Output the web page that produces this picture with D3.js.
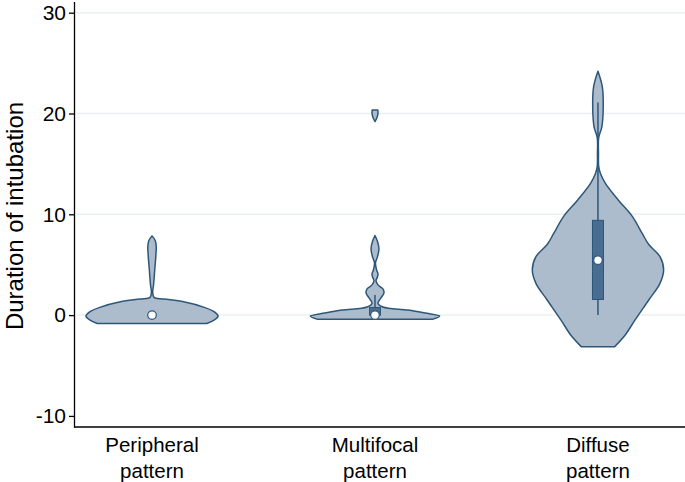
<!DOCTYPE html>
<html>
<head>
<meta charset="utf-8">
<script src="https://cdn.jsdelivr.net/npm/d3@7"></script>
<style>
    body { margin: 0; background: #fff; }
    text { font-family: "Liberation Sans", Arial, sans-serif; fill: #000; }
</style>
</head>
<body>
<div id="chart"></div>
<script>
// categories (two-line labels)
const categories = ["Peripheral", "Multifocal", "Diffuse"];
const labelLines = [["Peripheral", "pattern"], ["Multifocal", "pattern"], ["Diffuse", "pattern"]];
const yTicks = [-10, 0, 10, 20, 30];
const gridTicks = [0, 10, 20, 30];

// violin outlines: [value, relative density], one array per separate piece
const peripheralPieces = [[
    [-0.83, 0.83], [-0.5, 0.94], [-0.1, 1.0], [0.3, 0.95], [0.77, 0.79], [1.32, 0.48],
    [1.6, 0.18], [1.76, 0.03], [2.3, 0.01], [3.0, 0.023], [4.5, 0.041], [6.0, 0.059],
    [6.8, 0.064], [7.4, 0.048], [7.86, 0]
]];
const multifocalPieces = [[
    [-0.4, 0.88], [-0.1, 0.98], [0.2, 0.76], [0.5, 0.5], [0.8, 0.12], [1.2, 0.045],
    [1.7, 0.09], [2.2, 0.136], [2.6, 0.12], [3.0, 0.045], [3.4, 0.015], [3.8, 0.038],
    [4.1, 0.045], [4.5, 0.023], [5.2, 0.008], [5.8, 0.038], [6.6, 0.06], [7.3, 0.038], [7.9, 0]
], [
    [19.2, 0], [19.6, 0.03], [20.0, 0.045], [20.35, 0.042]
]];
const diffusePieces = [[
    [-3.15, 0.25], [-2, 0.41], [-0.5, 0.56], [1.5, 0.77], [3.15, 0.94], [4.5, 0.995],
    [5.8, 0.94], [7.0, 0.77], [8.1, 0.67], [9.8, 0.52], [11.4, 0.31], [13.1, 0.11],
    [14.1, 0.035], [14.75, 0.011], [16, 0.008], [17.6, 0.011], [18.7, 0.06],
    [21.05, 0.08], [22.7, 0.065], [24.2, 0]
]];
const violinPieces = [peripheralPieces, multifocalPieces, diffusePieces];

// box summaries: [lower whisker, q1, median, q3, upper whisker]
const boxStats = [
    [0, 0, 0, 0, 0],
    [0, 0, 0, 0.75, 2.0],
    [0, 1.55, 5.45, 9.4, 21.1]
];

const width = 685, height = 482;
const fillColor = "#adbccd", lineColor = "#2d5679", boxColor = "#486d90";

const svg = d3.select("#chart")
    .append("svg")
    .attr("width", width)
    .attr("height", height);

const y = d3.scaleLinear().domain([-11.1, 31.1]).range([427, 1.6]);
const x = d3.scalePoint().domain(categories).range([74, 676]).padding(0.35);
const w = d3.scaleLinear().domain([0, 1]).range([0, 66]);

// grid lines
svg.append("g")
    .selectAll("line")
    .data(gridTicks)
    .join("line")
    .attr("x1", 76)
    .attr("x2", width)
    .attr("y1", d => y(d))
    .attr("y2", d => y(d))
    .attr("stroke", "#eaf0f2")
    .attr("stroke-width", 1.5);

// violins
categories.forEach((cat, i) => {
    const cx = x(cat);
    const area = d3.area()
        .curve(d3.curveCatmullRom.alpha(0.5))
        .y(d => y(d[0]))
        .x0(d => cx - w(d[1]))
        .x1(d => cx + w(d[1]));
    const g = svg.append("g");
    g.selectAll("path")
        .data(violinPieces[i])
        .join("path")
        .attr("d", area)
        .attr("fill", fillColor)
        .attr("stroke", lineColor)
        .attr("stroke-width", 1.5)
        .attr("stroke-linejoin", "round");

    const [lo, q1, med, q3, hi] = boxStats[i];
    if (hi > lo) {
        g.append("line")
            .attr("x1", cx).attr("x2", cx)
            .attr("y1", y(lo)).attr("y2", y(hi))
            .attr("stroke", lineColor)
            .attr("stroke-width", 1.5);
    }
    if (q3 > q1) {
        g.append("rect")
            .attr("x", cx - 5.5)
            .attr("width", 11)
            .attr("y", y(q3))
            .attr("height", y(q1) - y(q3))
            .attr("fill", boxColor)
            .attr("stroke", lineColor)
            .attr("stroke-width", 1);
    }
    g.append("circle")
        .attr("cx", cx)
        .attr("cy", y(med))
        .attr("r", 4.3)
        .attr("fill", "#fff")
        .attr("stroke", lineColor)
        .attr("stroke-width", 1.2);
});

// y axis
const yAxis = svg.append("g")
    .attr("transform", "translate(74,0)")
    .call(d3.axisLeft(y)
        .tickValues(yTicks)
        .tickFormat(d => String(d))
        .tickSize(5)
        .tickSizeOuter(0)
        .tickPadding(3));
yAxis.select(".domain").attr("stroke", "#000").attr("stroke-width", 1.3);
yAxis.selectAll(".tick line").attr("stroke", "#000").attr("stroke-width", 1.3);
yAxis.selectAll(".tick text")
    .attr("font-size", 21)
    .attr("font-family", null)
    .attr("fill", "#000");

// y axis label
svg.append("text")
    .attr("text-anchor", "middle")
    .attr("transform", "translate(23,216) rotate(-90)")
    .attr("font-size", 24)
    .text("Duration of intubation");

// x axis line
svg.append("line")
    .attr("x1", 74).attr("x2", width)
    .attr("y1", 427).attr("y2", 427)
    .attr("stroke", "#000")
    .attr("stroke-width", 1.3);

// category labels
const labels = svg.append("g")
    .selectAll("text")
    .data(categories)
    .join("text")
    .attr("text-anchor", "middle")
    .attr("font-size", 20.5)
    .attr("x", d => x(d))
    .attr("y", 452);
labels.selectAll("tspan")
    .data((d, i) => labelLines[i])
    .join("tspan")
    .attr("x", function () { return d3.select(this.parentNode).attr("x"); })
    .attr("dy", (d, j) => j === 0 ? 0 : 26)
    .text(d => d);
</script>
</body>
</html>
